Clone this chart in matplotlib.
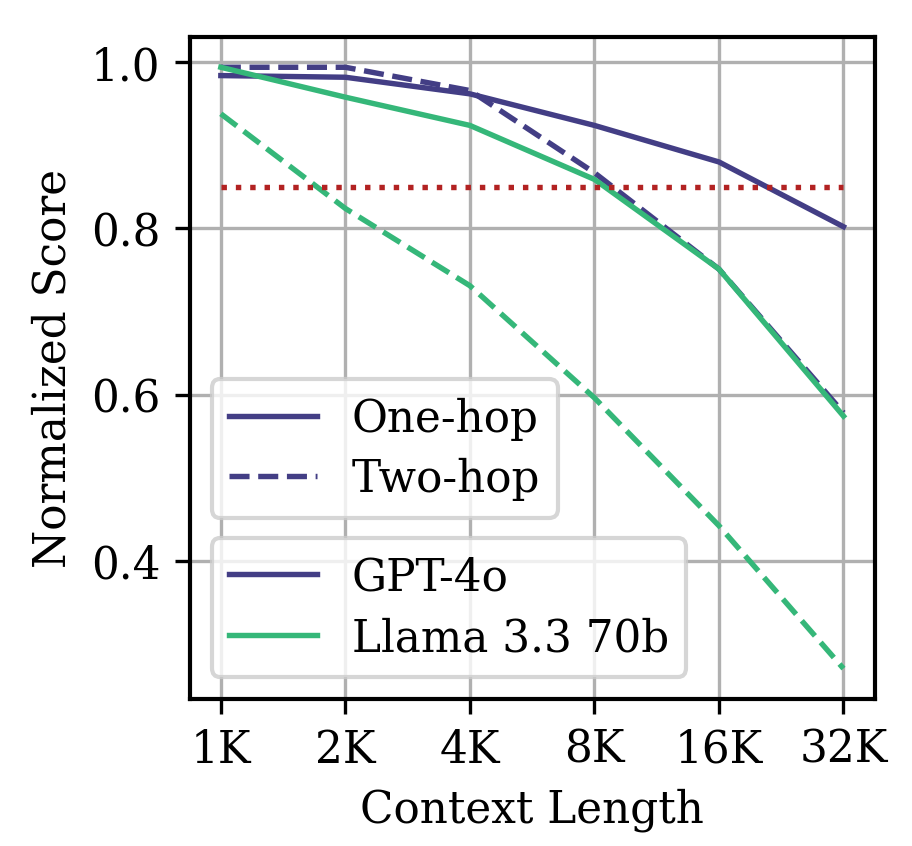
import numpy as np
import matplotlib.pyplot as plt
from matplotlib.lines import Line2D

# Context lengths and scores
contexts = ["1K", "2K", "4K", "8K", "16K", "32K"]
gpt_one_hop = [0.984, 0.982, 0.962, 0.924, 0.880, 0.802]
gpt_two_hop = [0.994, 0.994, 0.966, 0.867, 0.751, 0.578]
llama_one_hop = [0.994, 0.958, 0.924, 0.859, 0.751, 0.574]
llama_two_hop = [0.938, 0.824, 0.731, 0.596, 0.442, 0.270]
threshold = 0.85

gpt_color = "#433e85"
llama_color = "#35b779"

plt.rcParams["font.family"] = "DejaVu Serif"
plt.rcParams["font.size"] = 10.5

fig = plt.figure(figsize=(3.04, 2.823), dpi=300)
ax = fig.add_axes([0.208, 0.174, 0.751, 0.781])

x = np.arange(len(contexts))
lw = 1.3
ax.plot(x, gpt_one_hop, color=gpt_color, lw=lw, ls="-")
ax.plot(x, gpt_two_hop, color=gpt_color, lw=lw, ls="--")
ax.plot(x, llama_one_hop, color=llama_color, lw=lw, ls="-")
ax.plot(x, llama_two_hop, color=llama_color, lw=lw, ls="--")
ax.hlines(threshold, x[0], x[-1], colors="#b22222", lw=lw, linestyles=":")

ax.set_xticks(x)
ax.set_xticklabels(contexts)
ax.set_yticks([0.4, 0.6, 0.8, 1.0])
ax.set_xlabel("Context Length")
ax.set_ylabel("Normalized Score")
ax.grid(True, color="#b0b0b0", lw=0.8)
for sp in ax.spines.values():
    sp.set_linewidth(1.0)

# Two stacked legends: hop type and model
hop_handles = [Line2D([], [], color=gpt_color, lw=lw, ls="-"),
               Line2D([], [], color=gpt_color, lw=lw, ls="--")]
model_handles = [Line2D([], [], color=gpt_color, lw=lw),
                 Line2D([], [], color=llama_color, lw=lw)]

leg2 = ax.legend(model_handles, ["GPT-4o", "Llama 3.3 70b"], loc="lower left",
                 labelspacing=0.4)
ax.add_artist(leg2)
ax.legend(hop_handles, ["One-hop", "Two-hop"], loc="lower left",
          labelspacing=0.4, bbox_to_anchor=(0.0, 0.24))

fig.savefig("out.png", dpi=300)
